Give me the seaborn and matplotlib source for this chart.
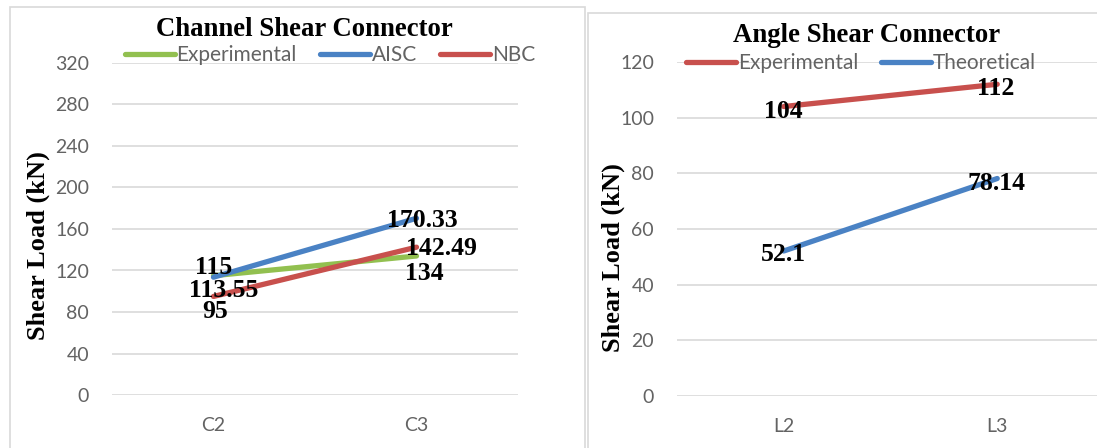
import matplotlib
matplotlib.use("Agg")
import matplotlib.pyplot as plt
from matplotlib.patches import Rectangle
from matplotlib.lines import Line2D
import pandas as pd
import seaborn as sns

# ---- data ----
channel_specimens = ["C2", "C3"]
channel_experimental = [115, 134]
channel_aisc = [113.55, 170.33]
channel_nbc = [95, 142.49]

angle_specimens = ["L2", "L3"]
angle_experimental = [104, 112]
angle_theoretical = [52.1, 78.14]

channel_ticks = [0, 40, 80, 120, 160, 200, 240, 280, 320]
angle_ticks = [0, 20, 40, 60, 80, 100, 120]

GREEN = "#92C050"
BLUE = "#4A82C4"
RED = "#C8504D"
GRID = "#D9D9D9"
TICK = "#636363"
SERIF = "Liberation Serif"
SANS = "Lato"

sns.set_theme(style="white")

W, H = 1097, 448
fig = plt.figure(figsize=(W / 100, H / 100), dpi=100)


def px_axes(x0, y_top, x1, y_bot):
    return fig.add_axes([x0 / W, 1 - y_bot / H, (x1 - x0) / W, (y_bot - y_top) / H])


# panel frames
fig.patches.append(Rectangle((10 / W, -0.05), (585 - 10) / W, 1.05 - 7 / H,
                             transform=fig.transFigure, fill=False,
                             edgecolor=GRID, linewidth=1.2))
fig.patches.append(Rectangle((588 / W, -0.05), (1120 - 588) / W, 1.05 - 13 / H,
                             transform=fig.transFigure, fill=False,
                             edgecolor=GRID, linewidth=1.2))


def make_panel(ax, cats, series, names, colors, ticks, labels_spec):
    frames = []
    for name, vals in zip(names, series):
        frames.append(pd.DataFrame({"Specimen": cats, "Load": vals, "Series": name}))
    df = pd.concat(frames, ignore_index=True)
    sns.lineplot(data=df, x="Specimen", y="Load", hue="Series",
                 palette=dict(zip(names, colors)), linewidth=3.8,
                 solid_capstyle="round", legend=False, ax=ax, zorder=3)
    ax.set_xlim(-0.5, 1.5)
    ax.set_ylim(ticks[0], ticks[-1])
    ax.set_yticks(ticks)
    ax.set_yticklabels([str(t) for t in ticks])
    ax.grid(axis="y", color=GRID, linewidth=1.2, zorder=0)
    ax.grid(axis="x", visible=False)
    for s in ax.spines.values():
        s.set_visible(False)
    ax.tick_params(axis="y", length=0, pad=16.5, labelsize=14, labelcolor=TICK)
    ax.tick_params(axis="x", length=0, pad=16, labelsize=14, labelcolor=TICK)
    for lab in ax.get_xticklabels() + ax.get_yticklabels():
        lab.set_fontfamily(SANS)
    ax.set_xlabel("")
    ax.set_ylabel("")
    # value labels
    for vals, offs in zip(series, labels_spec):
        for i, (v, off) in enumerate(zip(vals, offs)):
            ax.annotate(f"{v:g}", xy=(i, v), xytext=off, textcoords="offset pixels",
                        ha="center", va="center_baseline", fontsize=18.5,
                        fontfamily=SERIF, fontweight="bold", color="black", zorder=5)
    return ax


ax1 = px_axes(112, 63, 518, 395)
make_panel(ax1, channel_specimens,
           [channel_experimental, channel_aisc, channel_nbc],
           ["Experimental", "AISC", "NBC"], [GREEN, BLUE, RED], channel_ticks,
           [[(0, 11), (8, -15)], [(10, -11), (6, 0)], [(2, -13), (25, 1)]])

ax2 = px_axes(677, 62, 1104, 396)
make_panel(ax2, angle_specimens,
           [angle_experimental, angle_theoretical],
           ["Experimental", "Theoretical"], [RED, BLUE], angle_ticks,
           [[(0, -2), (-2, -2)], [(0, -1), (-1, -2)]])

# titles
fig.text(304 / W, 1 - 30 / H, "Channel Shear Connector", ha="center", va="center",
         fontsize=19.3, fontfamily=SERIF, fontweight="bold", color="black")
fig.text(867 / W, 1 - 36 / H, "Angle Shear Connector", ha="center", va="center",
         fontsize=19.3, fontfamily=SERIF, fontweight="bold", color="black")

# y-axis titles
fig.text(38 / W, 1 - 246 / H, "Shear Load (kN)", ha="center", va="center", rotation=90,
         fontsize=19, fontfamily=SERIF, fontweight="bold", color="black")
fig.text(613 / W, 1 - 258 / H, "Shear Load (kN)", ha="center", va="center", rotation=90,
         fontsize=19, fontfamily=SERIF, fontweight="bold", color="black")


def add_legend(names, colors, cx, cy):
    handles = [Line2D([], [], color=c, linewidth=3.8, solid_capstyle="round") for c in colors]
    leg = fig.legend(handles, names, loc="center", bbox_to_anchor=(cx / W, 1 - cy / H),
                     ncol=len(names), frameon=False, handlelength=2.4, handletextpad=0.1,
                     columnspacing=1.1, borderpad=0, borderaxespad=0,
                     prop={"family": SANS, "size": 15})
    for t in leg.get_texts():
        t.set_color(TICK)
    return leg


add_legend(["Experimental", "AISC", "NBC"], [GREEN, BLUE, RED], 330, 55)
add_legend(["Experimental", "Theoretical"], [RED, BLUE], 861, 63)

fig.savefig("out.png", dpi=100, facecolor="white")
